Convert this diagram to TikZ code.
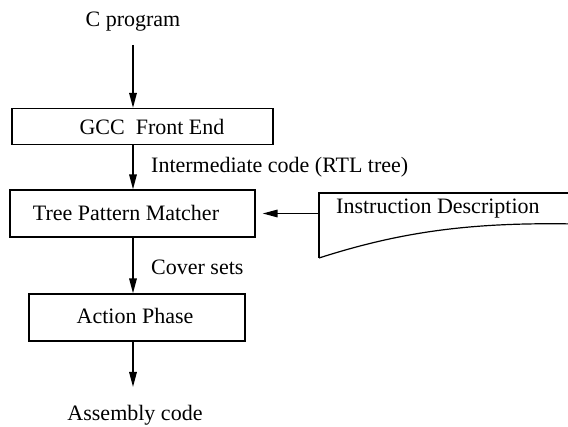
\documentclass[tikz,border=0pt]{standalone}
\usepackage{fontspec}
\setmainfont{Liberation Serif}
\usetikzlibrary{arrows.meta}
\begin{document}
\begin{tikzpicture}[x=1pt,y=-1pt,
  font=\fontsize{22}{26}\selectfont,
  stagebox/.style={draw, line width=1.2pt, inner sep=0pt},
  flow/.style={line width=1.6pt, -{Triangle[length=15pt,width=7.5pt]}},
  lbl/.style={inner sep=0pt, anchor=base west}]
\useasboundingbox (0,0) rectangle (568,427);
\clip (0,0) rectangle (568,427);

% input and output labels
\node (cprog) at (133,22) {C program};
\node (asm) at (135,415) {Assembly code};

% processing stages
\node[stagebox, minimum width=261pt, minimum height=36pt] (gcc) at (142.5,126.5) {};
\node (gcctext) at (152,127) {GCC\ \ Front End};
\node[stagebox, minimum width=245pt, minimum height=47pt] (tpm) at (132.5,213.5) {};
\node (tpmtext) at (126,213) {Tree Pattern Matcher};
\node[stagebox, minimum width=216pt, minimum height=47pt] (act) at (137,317.5) {};
\node (acttext) at (135,316) {Action Phase};

% instruction description document
\draw[line width=1.2pt] (319,258) -- (319,193) -- (575,193);
\draw[line width=1.2pt] (319,258) .. controls (400,232) and (470,222) .. (575,224);
\node[lbl] (instr) at (336,214) {Instruction Description};
\coordinate (docin) at (319,213.5);

% data flow
\coordinate (ax) at (133,0);
\draw[flow] (cprog.south |- 0,45) -- (ax |- gcc.north);
\draw[flow] (ax |- gcc.south) -- (ax |- tpm.north);
\draw[flow] (ax |- tpm.south) -- (ax |- act.north);
\draw[flow] (ax |- act.south) -- (133,387);
\draw[flow, shorten >=7pt] (docin) -- (tpm.east);

% edge labels
\node[lbl] (ic) at (151,173) {Intermediate code (RTL tree)};
\node[lbl] (cs) at (151,275) {Cover sets};
\end{tikzpicture}
\end{document}
